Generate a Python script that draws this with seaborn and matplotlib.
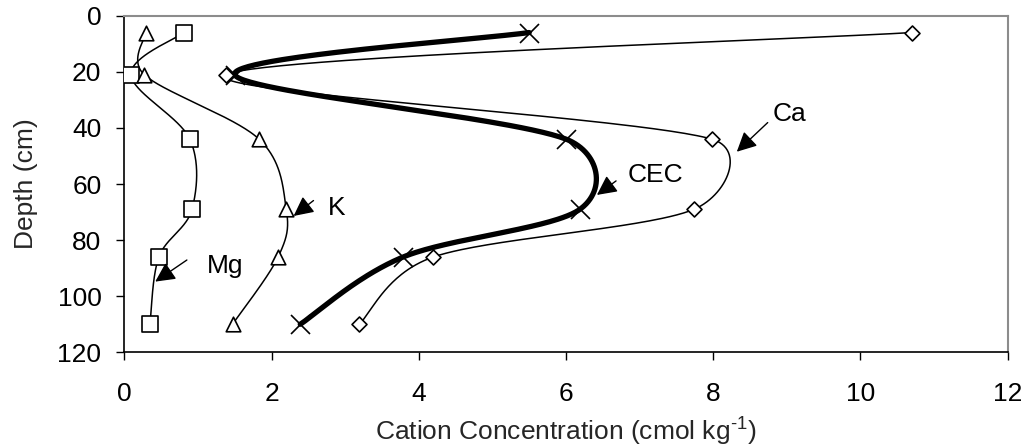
import numpy as np
import pandas as pd
import matplotlib
matplotlib.use("Agg")
import matplotlib.pyplot as plt
import seaborn as sns

# Soil profile: sampling depth (cm) and exchangeable cations (cmol kg-1)
depth = [6, 21, 44, 69, 86, 110]
mg = [0.81, 0.09, 0.89, 0.92, 0.47, 0.35]
k = [0.29, 0.27, 1.83, 2.20, 2.09, 1.47]
cec = [5.50, 1.50, 6.00, 6.19, 3.79, 2.39]
ca = [10.70, 1.38, 7.98, 7.74, 4.20, 3.19]

x_ticks = [0, 2, 4, 6, 8, 10, 12]
y_ticks = [0, 20, 40, 60, 80, 100, 120]

# (label text, label position, arrow tail, arrow head) in data units
callouts = [
    ("Ca", (9.04, 34.9), (8.74, 38.1), (8.32, 48.5)),
    ("CEC", (7.21, 56.9), (6.68, 58.9), (6.42, 63.9)),
    ("K", (2.88, 68.5), (2.57, 65.9), (2.30, 71.4)),
    ("Mg", (1.37, 89.2), (0.85, 87.1), (0.42, 94.8)),
]

sns.set_theme(style="white")
plt.rcParams["font.family"] = ["Liberation Sans", "DejaVu Sans"]
plt.rcParams["mathtext.fontset"] = "custom"
plt.rcParams["mathtext.rm"] = "Liberation Sans"
plt.rcParams["mathtext.it"] = "Liberation Sans"

FS = 19

fig = plt.figure(figsize=(10.27, 4.48), dpi=100)
ax = fig.add_axes([124.3 / 1027, 1 - 352.3 / 448,
                   (1007.7 - 124.3) / 1027, (352.3 - 15.7) / 448])
ax.set_xlim(0, 12)
ax.set_ylim(120, 0)


def smooth_curve(xs, ys, n=60):
    """Bezier smoothing in screen space, control arms capped at half a segment."""
    pts = ax.transData.transform(np.column_stack([xs, ys]))
    m = len(pts)
    t = np.linspace(0, 1, n)[:, None]
    pieces = []
    for i in range(m - 1):
        p0 = pts[max(i - 1, 0)]
        p1 = pts[i]
        p2 = pts[i + 1]
        p3 = pts[min(i + 2, m - 1)]
        half = np.linalg.norm(p2 - p1) / 2
        a1 = (p2 - p0) / 6
        a2 = (p3 - p1) / 6
        for a in (a1, a2):
            L = np.linalg.norm(a)
            if L > half and L > 0:
                a *= half / L
        c1 = p1 + a1
        c2 = p2 - a2
        b = ((1 - t) ** 3) * p1 + 3 * ((1 - t) ** 2) * t * c1 \
            + 3 * (1 - t) * t ** 2 * c2 + t ** 3 * p2
        pieces.append(b if i == 0 else b[1:])
    curve = ax.transData.inverted().transform(np.vstack(pieces))
    return curve[:, 0], curve[:, 1]


series = [
    ("Mg", mg, 1.1, "s", 117),
    ("K", k, 1.1, "^", 110),
    ("Ca", ca, 1.1, "D", 58),
    ("CEC", cec, 3.8, "x", 187),
]

for name, vals, lw, mk, size in series:
    cx, cy = smooth_curve(vals, depth)
    curve = pd.DataFrame({"conc": cx, "depth": cy})
    sns.lineplot(data=curve, x="conc", y="depth", sort=False, estimator=None,
                 color="black", linewidth=lw, ax=ax, zorder=2)

for name, vals, lw, mk, size in series:
    pts = pd.DataFrame({"conc": vals, "depth": depth})
    if mk == "x":
        sns.scatterplot(data=pts, x="conc", y="depth", marker=mk, s=size,
                        color="black", linewidth=1.2, ax=ax, zorder=4)
    else:
        sns.scatterplot(data=pts, x="conc", y="depth", marker=mk, s=size,
                        facecolor="white", edgecolor="black", linewidth=1.2,
                        ax=ax, zorder=3)

for text, tpos, tail, head in callouts:
    ax.annotate("", xy=head, xytext=tail,
                arrowprops=dict(arrowstyle="-|>,head_length=0.6,head_width=0.3",
                                mutation_scale=20, color="black", lw=1.0,
                                shrinkA=0, shrinkB=0))
    ax.text(tpos[0], tpos[1], text, fontsize=FS, ha="center", va="center",
            color="black")

ax.set_xlim(0, 12)
ax.set_ylim(120, 0)
ax.set_xticks(x_ticks)
ax.set_yticks(y_ticks)
ax.set_xticklabels([str(v) for v in x_ticks])
ax.set_yticklabels([str(v) for v in y_ticks])

ax.tick_params(axis="both", labelsize=FS, colors="black", direction="out",
               width=1.0, length=5.5)
ax.tick_params(axis="x", pad=16, bottom=True)
ax.tick_params(axis="y", pad=11, left=True)

for side in ("top", "right"):
    ax.spines[side].set_color("#8c8c8c")
    ax.spines[side].set_linewidth(1.5)
for side in ("left", "bottom"):
    ax.spines[side].set_color("black")
    ax.spines[side].set_linewidth(1.2)

ax.set_xlabel("Cation Concentration (cmol kg$^{\\text{-1}}$)", fontsize=FS)
ax.set_ylabel("Depth (cm)", fontsize=FS)
ax.yaxis.set_label_coords(-0.098, 0.5)
ax.xaxis.set_label_coords(0.5, -0.19)

fig.savefig("out.png", dpi=100, facecolor="white")
